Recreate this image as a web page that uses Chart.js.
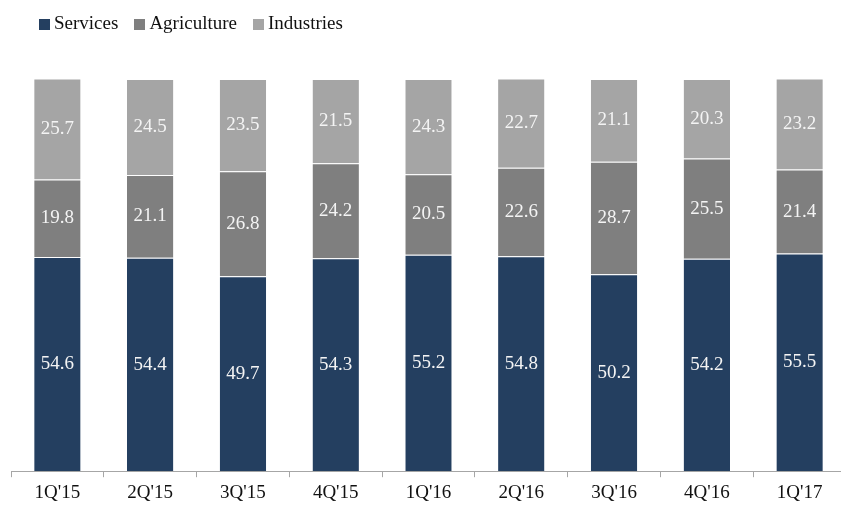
<!DOCTYPE html>
<html lang="en">
<head>
    <meta charset="UTF-8">
    <title>GDP Composition by Sector</title>
    <script src="https://cdn.jsdelivr.net/npm/chart.js"></script>
    <style>
        body { margin: 0; background: #fff; font-family: "Liberation Serif", "DejaVu Serif", serif; }
        .wrap { position: relative; width: 841px; height: 507px; overflow: hidden; }
        #legend { position: absolute; left: 39px; top: 12px; display: flex; font-size: 19px; color: #111; }
        #legend .item { display: flex; align-items: center; margin-right: 16px; }
        #legend .box { width: 11px; height: 11px; margin-right: 4px; margin-top: 2px; }
    </style>
</head>
<body>
    <div class="wrap">
        <div id="legend"></div>
        <!-- axis runs just past the right edge, so the canvas is a bit wider than the frame -->
        <canvas id="sectorChart" width="846" height="507"></canvas>
    </div>

    <script>
        const quarters = ["1Q'15", "2Q'15", "3Q'15", "4Q'15", "1Q'16", "2Q'16", "3Q'16", "4Q'16", "1Q'17"];
        const services = [54.6, 54.4, 49.7, 54.3, 55.2, 54.8, 50.2, 54.2, 55.5];
        const agriculture = [19.8, 21.1, 26.8, 24.2, 20.5, 22.6, 28.7, 25.5, 21.4];
        const industries = [25.7, 24.5, 23.5, 21.5, 24.3, 22.7, 21.1, 20.3, 23.2];

        const serif = '"Liberation Serif", "DejaVu Serif", serif';

        // writes each segment's value in the middle of its bar piece
        const segmentLabels = {
            id: 'segmentLabels',
            afterDatasetsDraw(chart) {
                const ctx = chart.ctx;
                ctx.save();
                ctx.fillStyle = '#f4f4f4';
                ctx.font = '19px ' + serif;
                ctx.textAlign = 'center';
                ctx.textBaseline = 'middle';
                chart.data.datasets.forEach((ds, i) => {
                    chart.getDatasetMeta(i).data.forEach((bar, j) => {
                        const p = bar.getProps(['x', 'y', 'base'], true);
                        ctx.fillText(ds.data[j].toFixed(1), p.x, (p.y + p.base) / 2);
                    });
                });
                ctx.restore();
            }
        };

        const ctx = document.getElementById('sectorChart').getContext('2d');
        const sectorChart = new Chart(ctx, {
            type: 'bar',
            data: {
                labels: quarters,
                datasets: [
                    { label: 'Services', data: services, backgroundColor: '#243f60' },
                    { label: 'Agriculture', data: agriculture, backgroundColor: '#7f7f7f' },
                    { label: 'Industries', data: industries, backgroundColor: '#a5a5a5' }
                ].map(d => Object.assign(d, {
                    borderColor: 'rgba(255,255,255,0.2)',
                    borderWidth: { top: 1 },
                    borderSkipped: false,
                    barPercentage: 0.5,
                    categoryPercentage: 1
                }))
            },
            options: {
                responsive: false,
                animation: false,
                layout: { padding: { left: 11, right: 0, top: 79, bottom: -1 } },
                plugins: {
                    legend: { display: false },
                    tooltip: { enabled: false }
                },
                scales: {
                    x: {
                        stacked: true,
                        grid: { drawOnChartArea: false, drawTicks: true, tickLength: 6, color: '#a6a6a6' },
                        border: { color: '#a6a6a6' },
                        ticks: { color: '#111', font: { family: serif, size: 19 }, padding: 4 }
                    },
                    y: {
                        stacked: true,
                        display: false,
                        min: 0,
                        max: 100
                    }
                }
            },
            plugins: [segmentLabels]
        });

        // legend row built from the dataset colours
        const legend = document.getElementById('legend');
        sectorChart.data.datasets.forEach(ds => {
            legend.innerHTML += `<div class="item"><span class="box" style="background:${ds.backgroundColor}"></span>${ds.label}</div>`;
        });
    </script>
</body>
</html>
